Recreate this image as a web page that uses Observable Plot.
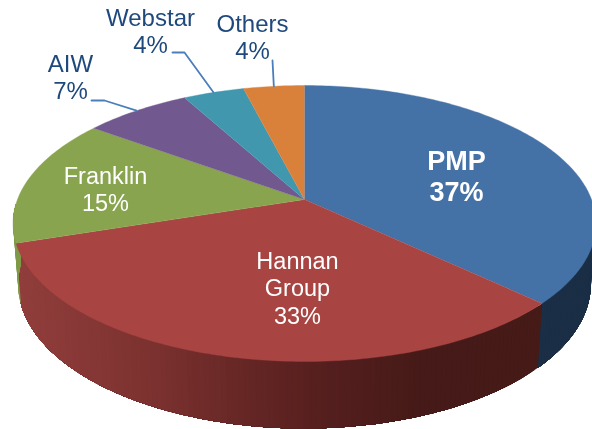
<!DOCTYPE html>
<html><head><meta charset="utf-8">
<script src="https://cdn.jsdelivr.net/npm/d3@7"></script>
<script src="https://cdn.jsdelivr.net/npm/@observablehq/plot@0.6"></script>
<style>html,body{margin:0;padding:0;background:#fff}svg{display:block;filter:blur(.35px)}</style>
</head><body><div id="chart"></div>
<script>
const names = ["PMP", "Hannan\nGroup", "Franklin", "AIW", "Webstar", "Others"];
const shares = [37, 33, 15, 7, 4, 4];
const colors = ["#4471a6", "#a84543", "#89a44e", "#71588f", "#4197ae", "#d9803b"];
const wallStops = [15, 150, 250, 330, 420, 540];
const wallReds = ["#913e3c", "#7c3230", "#652624", "#541f1e", "#461a18", "#451a17"];
const wallOther = {0: "#1a2e46", 2: "#7f9a48"};

// perspective projection of the pie's circular faces
const apex = [304, 199], persp = 0.174;
const topFace = {r: 287, k: 133.8, cy: apex[1]};
const lowFace = {r: 282, k: 140, cy: 258.5};
const project = (deg, f) => {
  const a = deg * Math.PI / 180, d = 1 + persp * Math.cos(a);
  return {x: apex[0] + f.r * Math.sin(a) / d, y: f.cy - f.k * Math.cos(a) / d};
};
const wallFrom = 95, wallTo = 268;

let cum = 0;
const slices = shares.map((v, i) => {
  const start = cum * 3.6; cum += v; const end = cum * 3.6;
  return {i, name: names[i], v, start, end, mid: (start + end) / 2, color: colors[i]};
});

const redRamp = d3.scaleLinear().domain(wallStops).range(wallReds).clamp(true);
const wall = [];
const topPts = [];
slices.forEach(s => {
  const n = Math.max(2, Math.ceil(s.end - s.start));
  const at = j => s.start + (s.end - s.start) * j / n;
  topPts.push({id: s.i, color: s.color, x: apex[0], y: apex[1]});
  for (let j = 0; j <= n; j++) topPts.push({id: s.i, color: s.color, ...project(at(j), topFace)});
  // wall strips, each reaching to the slice's end so the next one paints over it: no seams
  const stop = Math.min(s.end, wallTo);
  for (let j = 0; j < n; j++) {
    const t = at(j);
    if (t + (s.end - s.start) / n <= wallFrom || t >= stop) continue;
    const id = s.i + "-" + j;
    const col = s.i === 1 ? redRamp(project(t, topFace).x) : wallOther[s.i];
    const pts = [];
    for (let q = Math.max(t, wallFrom); ; q = Math.min(q + 1, stop)) { pts.push(q); if (q >= stop) break; }
    pts.forEach(q => wall.push({id, color: col, ...project(q, topFace)}));
    pts.reverse().forEach(q => wall.push({id, color: col, ...project(q, lowFace)}));
  }
});

// labels and leader lines
const labelOf = s => `${s.name}\n${s.v}%`;
const bold = [{s: 0, x: 456, y: 175}];
const inside = [{s: 1, x: 297, y: 287}, {s: 2, x: 105, y: 188}];
const outside = [
  {s: 3, x: 70, y: 76, elbow: [[91, 100], [104, 100]]},
  {s: 4, x: 150, y: 30, elbow: [[172, 52], [184, 52]]},
  {s: 5, x: 252, y: 36, elbow: [[272, 60]]}
];
const withText = a => a.map(d => ({...d, t: labelOf(slices[d.s])}));
const leaders = outside.flatMap(o => [
  ...o.elbow.map(([x, y]) => ({id: o.s, x, y})),
  {id: o.s, ...project(slices[o.s].mid, topFace)}
]);

const chart = Plot.plot({
  width: 592, height: 429, margin: 0,
  x: {domain: [0, 592], axis: null},
  y: {domain: [429, 0], axis: null},
  color: {type: "identity"},
  marks: [
    Plot.line(wall, {x: "x", y: "y", z: "id", fill: "color", stroke: null}),
    Plot.line(topPts, {x: "x", y: "y", z: "id", fill: "color", stroke: "color", strokeWidth: 0.4}),
    Plot.line(leaders, {x: "x", y: "y", z: "id", stroke: "#4a7ebb", strokeWidth: 1.8}),
    Plot.text(withText(bold), {x: "x", y: "y", text: "t", fill: "#fff", fontSize: 27, fontWeight: "bold",
      lineHeight: 1.17, fontFamily: "Liberation Sans", textAnchor: "middle"}),
    Plot.text(withText(inside), {x: "x", y: "y", text: "t", fill: "#fff", fontSize: 23.5,
      lineHeight: 1.17, fontFamily: "Liberation Sans", textAnchor: "middle"}),
    Plot.text(withText(outside), {x: "x", y: "y", text: "t", fill: "#1f497d", fontSize: 24,
      lineHeight: 1.13, fontFamily: "Liberation Sans", textAnchor: "middle"})
  ]
});
document.getElementById("chart").append(chart);
</script></body></html>
